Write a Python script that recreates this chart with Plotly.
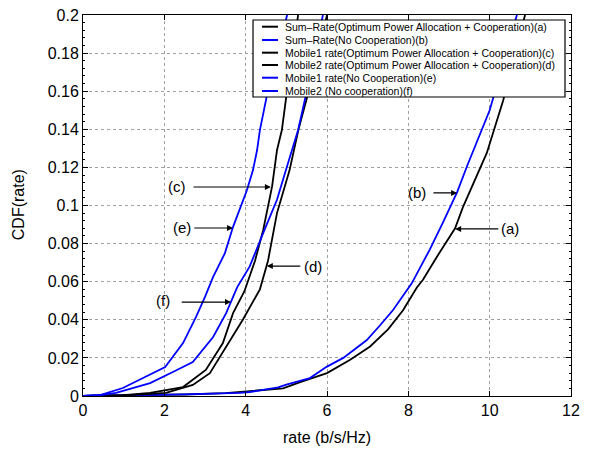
import plotly.graph_objects as go

# ---- data ----
a_x = [0, 1.0, 2.5, 3.5, 4.5, 4.92, 5.34, 6.0, 6.57, 7.06, 7.5, 7.87, 8.21, 8.36, 8.7, 9.15, 9.34, 9.62, 9.93, 10.33, 10.6, 10.87]
a_y = [0, 0.0002, 0.0008, 0.0015, 0.003, 0.004, 0.0073, 0.012, 0.019, 0.026, 0.035, 0.045, 0.057, 0.061, 0.073, 0.088, 0.099, 0.113, 0.1276, 0.155, 0.177, 0.2]

b_x = [0, 1.0, 2.5, 3.86, 4.1, 4.8, 5.0, 5.58, 5.99, 6.4, 6.98, 7.3, 7.62, 8.08, 8.53, 8.85, 9.2, 9.45, 9.68, 10.0, 10.35, 10.67]
b_y = [0, 0.0003, 0.0009, 0.0016, 0.0021, 0.0045, 0.006, 0.0094, 0.0153, 0.020, 0.0294, 0.037, 0.045, 0.059, 0.077, 0.091, 0.107, 0.121, 0.133, 0.150, 0.176, 0.2]

c_x = [0, 1.0, 1.65, 2.46, 3.02, 3.44, 3.69, 3.97, 4.23, 4.43, 4.65, 4.77, 4.89, 5.02, 5.29]
c_y = [0, 0.0005, 0.0016, 0.0047, 0.0137, 0.0278, 0.0435, 0.055, 0.071, 0.087, 0.110, 0.129, 0.1396, 0.1606, 0.2]

d_x = [0, 1.0, 2.04, 2.7, 3.12, 3.52, 3.93, 4.35, 4.55, 4.77, 5.08, 5.3, 5.55, 6.0]
d_y = [0, 0.0003, 0.0016, 0.0058, 0.012, 0.026, 0.040, 0.056, 0.071, 0.096, 0.1186, 0.14, 0.16, 0.2]

e_x = [0, 0.42, 0.98, 1.48, 2.02, 2.46, 2.78, 3.0, 3.2, 3.49, 3.69, 4.03, 4.18, 4.28, 4.35, 4.55, 5.02]
e_y = [0, 0.0005, 0.0042, 0.0094, 0.0152, 0.0278, 0.0415, 0.052, 0.0625, 0.075, 0.0888, 0.108, 0.1186, 0.129, 0.1396, 0.1606, 0.2]

f_x = [0, 0.4, 0.81, 1.65, 2.21, 2.7, 3.2, 3.52, 3.79, 4.1, 4.43, 4.77, 4.99, 5.29, 5.51, 5.9]
f_y = [0, 0.0004, 0.0016, 0.0068, 0.0126, 0.0178, 0.031, 0.0435, 0.057, 0.068, 0.0855, 0.103, 0.1186, 0.1396, 0.1606, 0.2]

names = [
    "Sum\u2013Rate(Optimum Power Allocation + Cooperation)(a)",
    "Sum\u2013Rate(No Cooperation)(b)",
    "Mobile1 rate(Optimum Power Allocation + Cooperation)(c)",
    "Mobile2 rate(Optimum Power Allocation + Cooperation)(d)",
    "Mobile1 rate(No Cooperation)(e)",
    "Mobile2 (No cooperation)(f)",
]
colors = ["#000000", "#0000ff", "#000000", "#000000", "#0000ff", "#0000ff"]
series = [(a_x, a_y), (b_x, b_y), (c_x, c_y), (d_x, d_y), (e_x, e_y), (f_x, f_y)]

# labels: (text, text_x, text_y, tail_x, head_x, arrow_y)
labels = [
    ("(a)", 10.5, 0.0877, 10.25, 9.15, 0.0877),
    ("(b)", 8.21, 0.1066, 8.58, 9.2, 0.1066),
    ("(c)", 2.32, 0.110, 2.68, 4.62, 0.1097),
    ("(d)", 5.66, 0.0682, 5.38, 4.52, 0.0682),
    ("(e)", 2.44, 0.0885, 2.70, 3.69, 0.0882),
    ("(f)", 1.97, 0.050, 2.39, 3.64, 0.0493),
]

yticks = [0, 0.02, 0.04, 0.06, 0.08, 0.1, 0.12, 0.14, 0.16, 0.18, 0.2]
ytick_text = ["0", "0.02", "0.04", "0.06", "0.08", "0.1", "0.12", "0.14", "0.16", "0.18", "0.2"]
xticks = [0, 2, 4, 6, 8, 10, 12]

FONT = "Liberation Sans, Arial, Helvetica, sans-serif"

fig = go.Figure()
for (sx, sy), nm, col in zip(series, names, colors):
    fig.add_trace(go.Scatter(x=sx, y=sy, mode="lines", name=nm,
                             line=dict(color=col, width=1.8), showlegend=False))

annotations = []
for txt, tx, ty, ax0, hx, ay0 in labels:
    annotations.append(dict(x=tx, y=ty, xref="x", yref="y", text=txt, showarrow=False,
                            font=dict(family=FONT, size=15, color="black")))
    annotations.append(dict(x=hx, y=ay0, xref="x", yref="y", ax=ax0, ay=ay0,
                            axref="x", ayref="y", text="", showarrow=True,
                            arrowhead=2, arrowsize=1, arrowwidth=1.2, arrowcolor="black"))

# axis titles
annotations.append(dict(x=-0.133, y=0.501, xref="paper", yref="paper", text="CDF(rate)",
                        showarrow=False, textangle=-90, xanchor="center", yanchor="middle",
                        font=dict(family=FONT, size=16, color="black")))
annotations.append(dict(x=0.5, y=-0.110, xref="paper", yref="paper", text="rate (b/s/Hz)",
                        showarrow=False, xanchor="center", yanchor="middle",
                        font=dict(family=FONT, size=16, color="black")))

# manual legend (paper coordinates)
shapes = [dict(type="rect", xref="paper", yref="paper", x0=0.3484, x1=0.9877,
               y0=0.7848, y1=0.9869, line=dict(color="black", width=1.2), fillcolor="white",
               layer="above")]
row_y = [0.9693, 0.9344, 0.9011, 0.8688, 0.8354, 0.8005]
for ry, nm, col in zip(row_y, names, colors):
    shapes.append(dict(type="line", xref="paper", yref="paper", x0=0.3668, x1=0.3996,
                       y0=ry, y1=ry, line=dict(color=col, width=2), layer="above"))
    annotations.append(dict(x=0.4098, y=ry, xref="paper", yref="paper", text=nm,
                            showarrow=False, xanchor="left", yanchor="middle",
                            font=dict(family=FONT, size=10.5, color="black")))

# page body has an 8px default margin, so plot margins are offset by 8px
fig.update_layout(
    width=592, height=450,
    margin=dict(l=75, r=29, t=7, b=62, autoexpand=False),
    paper_bgcolor="white", plot_bgcolor="white",
    font=dict(family=FONT, size=16, color="black"),
    shapes=shapes, annotations=annotations,
    showlegend=False,
)
axis_common = dict(showline=True, linecolor="black", linewidth=1, mirror="ticks",
                   ticks="inside", ticklen=5, tickcolor="black", automargin=False,
                   ticklabeloverflow="allow",
                   showgrid=True, gridcolor="#a0a0a0", griddash="dot", gridwidth=1,
                   zeroline=False, tickfont=dict(family=FONT, size=16, color="black"))
fig.update_xaxes(range=[0, 12], tickvals=xticks, **axis_common)
fig.update_yaxes(range=[0, 0.2], tickvals=yticks, ticktext=ytick_text,
                 minor=dict(ticks="inside", ticklen=2, dtick=0.004, tickcolor="black", showgrid=False),
                 **axis_common)

fig.write_html("out.html")
